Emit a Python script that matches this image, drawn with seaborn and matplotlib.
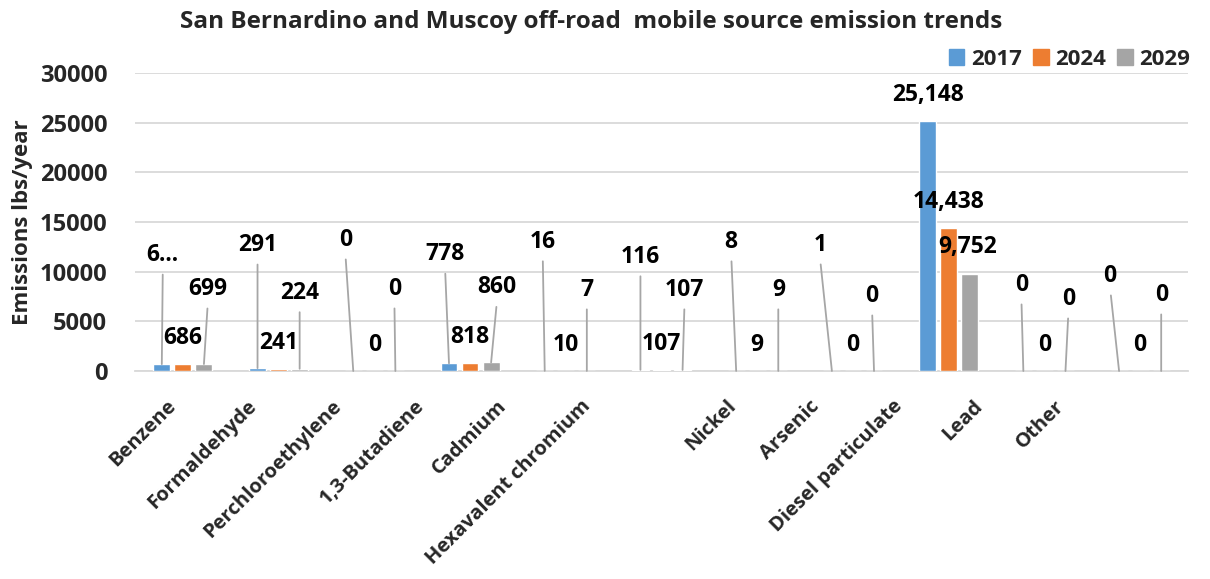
import matplotlib
matplotlib.use("Agg")
import matplotlib.pyplot as plt
import matplotlib.transforms as mtransforms
import seaborn as sns
import pandas as pd

compounds = ["Benzene", "Formaldehyde", "Perchloroethylene", "1,3-Butadiene",
             "Cadmium", "Hexavalent chromium", "Nickel", "Arsenic",
             "Diesel particulate", "Lead", "Other"]
years = ["2017", "2024", "2029"]
emis_2017 = [690, 291, 0, 778, 16, 116, 8, 1, 25148, 0, 0]
emis_2024 = [686, 241, 0, 818, 10, 107, 9, 0, 14438, 0, 0]
emis_2029 = [699, 224, 0, 860, 7, 107, 9, 0, 9752, 0, 0]
# Benzene 2017 callout is too narrow for its number and shows truncated
label_overrides = {("Benzene", "2017"): "6..."}

colors = ["#5B9BD5", "#ED7D31", "#A5A5A5"]
yticks = [0, 5000, 10000, 15000, 20000, 25000, 30000]

df = pd.DataFrame({
    "compound": compounds * 3,
    "year": [y for y in years for _ in compounds],
    "emissions": emis_2017 + emis_2024 + emis_2029,
})

sns.set_theme(style="white")
plt.rcParams["font.family"] = ["Open Sans", "DejaVu Sans"]
plt.rcParams["font.weight"] = "bold"

fig = plt.figure(figsize=(12.1, 5.79), dpi=100)
ax = fig.add_axes([135 / 1210, 1 - 371 / 579, 1053 / 1210, 298 / 579])

sns.barplot(data=df, x="compound", y="emissions", hue="year",
            palette=colors, width=0.66, gap=0.2, ax=ax,
            saturation=1, legend=True, zorder=3)

ax.set_ylim(0, 30000)
ax.set_xlim(-0.5, len(compounds) - 0.5)
ax.set_yticks(yticks)
ax.set_yticklabels([str(t) for t in yticks], fontsize=17, fontweight="bold")
ax.tick_params(axis="y", length=0, pad=20)
ax.tick_params(axis="x", length=0, pad=6)
ax.grid(axis="y", color="#D9D9D9", linewidth=1.3, zorder=0)
for side in ["top", "right", "left"]:
    ax.spines[side].set_visible(False)
ax.spines["bottom"].set_color("#D9D9D9")
ax.spines["bottom"].set_linewidth(1.3)
ax.set_xlabel("")
ax.set_ylabel("Emissions lbs/year", fontsize=16, fontweight="bold")
ax.yaxis.set_label_coords(-102 / 1053, 0.5)

# category labels, rotated like the original spreadsheet layout
tick_shift = [-6, -21, -32, -45, -58, -70, -20, -33, -45, -61, -75]
ax.set_xticks(range(len(compounds)))
ax.set_xticklabels(compounds, rotation=45, ha="right", va="top",
                   rotation_mode="anchor", fontsize=14.5, fontweight="bold")
for lbl, sh in zip(ax.get_xticklabels(), tick_shift):
    lbl.set_transform(lbl.get_transform() +
                      mtransforms.ScaledTranslation((sh - 11) / 100, -17 / 100,
                                                    fig.dpi_scale_trans))

# callout offsets in pixels (dx, dy up) from each bar's top; leader drawn when True
offsets = {
    "2017": [(1, 109), (0, 123), (-8, 131), (-4, 109), (-2, 129), (0, 113),
             (-5, 129), (-12, 126), (0, 26), (-2, 86), (-9, 95)],
    "2024": [(0, 26)] * len(compounds),
    "2029": [(4, 75), (0, 76), (-1, 82), (6, 75), (0, 81), (2, 80),
             (0, 81), (-2, 75), (-2, 27), (3, 72), (0, 76)],
}
leaders = {
    "2017": [True] * 8 + [False] + [True] * 2,
    "2024": [False] * len(compounds),
    "2029": [True] * 8 + [False] + [True] * 2,
}
values = {"2017": emis_2017, "2024": emis_2024, "2029": emis_2029}

for yi, year in enumerate(years):
    cont = ax.containers[yi]
    for ci, bar in enumerate(cont):
        val = values[year][ci]
        xc = bar.get_x() + bar.get_width() / 2
        top = bar.get_height()
        text = label_overrides.get((compounds[ci], year), f"{val:,}")
        dx, dy = offsets[year][ci]
        arrow = None
        if leaders[year][ci]:
            arrow = dict(arrowstyle="-", color="#A6A6A6", lw=1.3,
                         shrinkA=3, shrinkB=0, relpos=(0.5, 0))
        ax.annotate(text, xy=(xc, top), xytext=(dx, dy),
                    textcoords="offset pixels", ha="center", va="center",
                    fontsize=16.5, fontweight="bold", color="black",
                    arrowprops=arrow, zorder=4)

ax.get_legend().remove()
handles = [plt.Rectangle((0, 0), 1, 1, color=c) for c in colors]
fig.legend(handles, years, loc="upper right",
           bbox_to_anchor=(1206 / 1210, 1 - 33 / 579), ncol=3, frameon=False,
           handlelength=0.7, handleheight=0.7, handletextpad=0.3,
           columnspacing=0.5, borderpad=0.2, prop={"size": 16, "weight": "bold"})

fig.text(591 / 1210, 1 - 22 / 579,
         "San Bernardino and Muscoy off-road  mobile source emission trends",
         ha="center", va="center", fontsize=17.5, fontweight="bold")

fig.savefig("out.png", dpi=100)
